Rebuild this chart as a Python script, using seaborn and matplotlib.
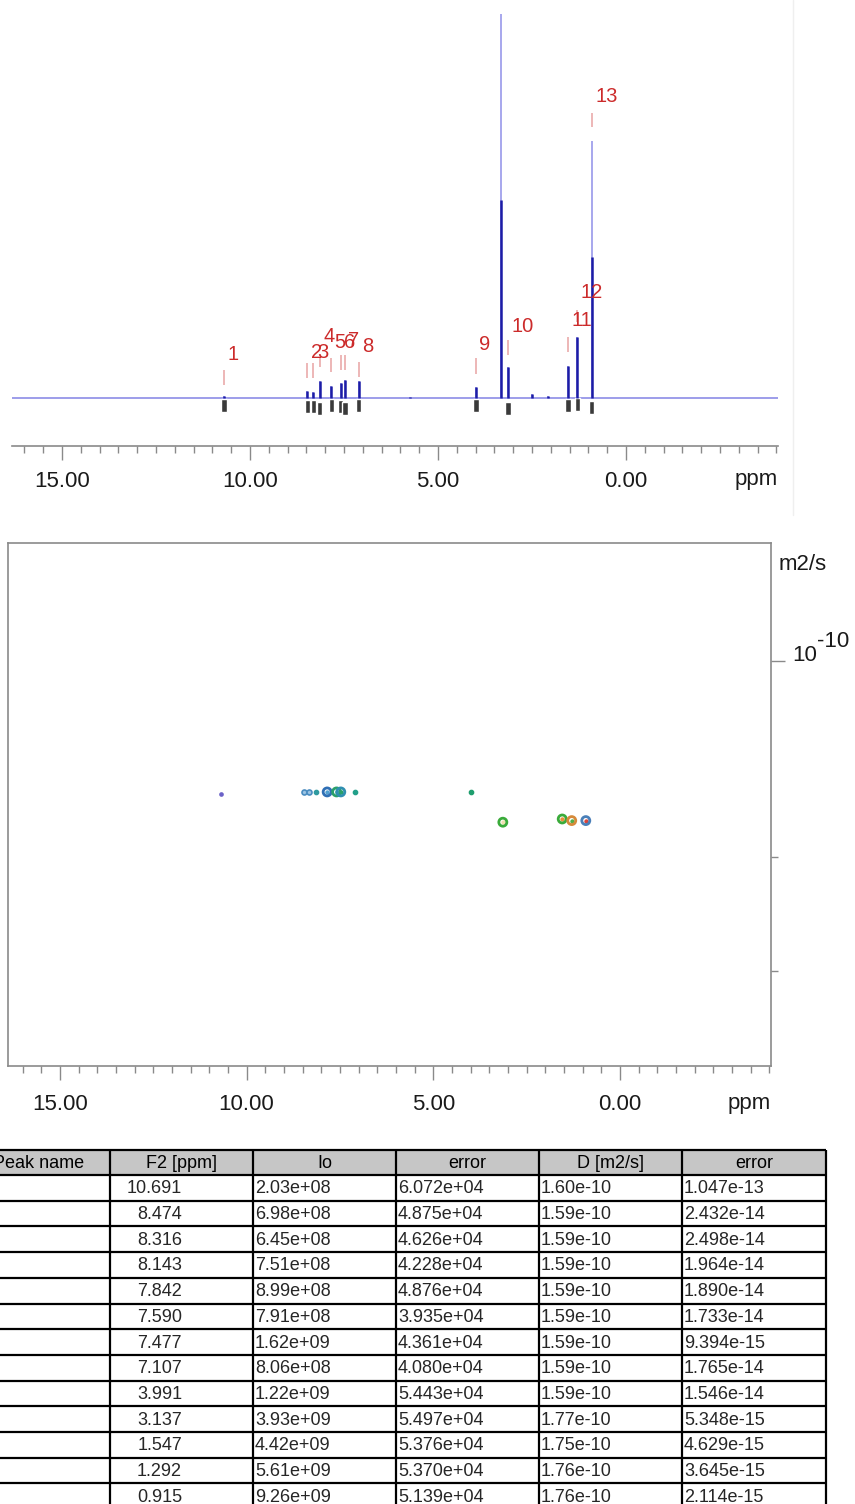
import numpy as np
import pandas as pd
import matplotlib
matplotlib.use("Agg")
import matplotlib.pyplot as plt
from matplotlib.ticker import MultipleLocator, FixedLocator, NullFormatter, FormatStrFormatter
from matplotlib.patches import Rectangle
from matplotlib.lines import Line2D
from matplotlib import font_manager as fm
import seaborn as sns

sns.set_theme(style="white")
plt.rcParams["font.family"] = ["Liberation Sans", "DejaVu Sans"]

# ---------------- peak table (DOSY fit results) ----------------
peak_no = list(range(1, 14))
f2_ppm = [10.691, 8.474, 8.316, 8.143, 7.842, 7.590, 7.477, 7.107, 3.991, 3.137, 1.547, 1.292, 0.915]
io = [2.03e8, 6.98e8, 6.45e8, 7.51e8, 8.99e8, 7.91e8, 1.62e9, 8.06e8, 1.22e9, 3.93e9, 4.42e9, 5.61e9, 9.26e9]
io_err = [6.072e4, 4.875e4, 4.626e4, 4.228e4, 4.876e4, 3.935e4, 4.361e4, 4.080e4, 5.443e4,
          5.497e4, 5.376e4, 5.370e4, 5.139e4]
diff_d = [1.60e-10, 1.59e-10, 1.59e-10, 1.59e-10, 1.59e-10, 1.59e-10, 1.59e-10, 1.59e-10, 1.59e-10,
          1.77e-10, 1.75e-10, 1.76e-10, 1.76e-10]
diff_d_err = [1.047e-13, 2.432e-14, 2.498e-14, 1.964e-14, 1.890e-14, 1.733e-14, 9.394e-15, 1.765e-14,
              1.546e-14, 5.348e-15, 4.629e-15, 3.645e-15, 2.114e-15]

# ---------------- 1H projection ----------------
# labelled lines: full height and height of the dense multiplet core
peak_height = [2, 7, 6, 17, 12, 15, 18, 17, 11, 31, 32, 61, 257]
peak_core = [2, 7, 6, 17, 12, 15, 18, 17, 11, 31, 32, 61, 141]
# unlabelled lines (residual solvent / water)
other_ppm = [5.74, 3.33, 2.50, 2.07]
other_height = [1.5, 430, 4, 2]
other_core = [1.5, 198, 4, 2]

# ---------------- layout / style (not data) ----------------
W, H = 855, 1504
tick_lo = [13, 20, 20, 31, 26, 28, 28, 21, 24, 43, 46, 76, 271]
tick_hi = [28, 35, 35, 41, 40, 43, 43, 36, 40, 58, 61, 88, 285]
label_y = [43, 46, 45, 61, 56, 55, 58, 52, 54, 72, 77, 105, 301]
integ_drop = [1, 2, 2, 4, 1, 2, 4, 1, 1, 4, 1, 0, 3]

ring_px = [3, 5, 5, 4, 8, 8, 8, 4, 4, 8, 8, 8, 8]
ring_col = ["#6b62c8", "#4a8cc0", "#4a8cc0", "#2f9aa0", "#2f6fb5", "#2aa06a", "#2f8fb0",
            "#22a08a", "#1f9e6e", "#3aab3a", "#3aab3a", "#d58a3a", "#4a7fb8"]
core_col = ["#6b62c8", "#9cc4e4", "#9cc4e4", "#2f9aa0", "#4f9fd0", "#3aa0a0", "#2aa06a",
            "#22a08a", "#1f9e6e", "#f0e0b0", "#e8903a", "#4fae4a", "#d9453a"]

TICK_C = "#8a8a8a"
TXT_C = "#1a1a1a"


def rect(x0, y0, x1, y1):
    return [x0 / W, 1 - y1 / H, (x1 - x0) / W, (y1 - y0) / H]


fig = plt.figure(figsize=(W / 100, H / 100), dpi=100)
# faint page edge next to the spectrum
fig.add_artist(Line2D([793 / W, 793 / W], [1, 1 - 515 / H], color="#efefef", lw=1.0))

# ================= 1H spectrum =================
ax1 = fig.add_axes(rect(12, 14, 778, 446))
ax1.set_xlim(16.33, -4.04)
ax1.set_ylim(-48, 384)
ax1.axhline(0, color="#8c8ce6", lw=1.2, zorder=1)

all_ppm = f2_ppm + other_ppm
all_h = peak_height + other_height
all_core = peak_core + other_core
ax1.vlines(all_ppm, 0, all_h, color="#8f8fe8", lw=1.1, zorder=2)
ax1.vlines(all_ppm, 0, all_core, color="#1c1ca6", lw=1.8, zorder=3)

# integral region markers
ax1.bar(f2_ppm, height=[-13] * len(f2_ppm), bottom=[-d for d in integ_drop],
        width=0.14, color="#3a3a3a", zorder=2)

# peak picking marks and numbers
ax1.vlines(f2_ppm, tick_lo, tick_hi, color="#e8a3a3", lw=1.1, zorder=2)
for n, x, y in zip(peak_no, f2_ppm, label_y):
    ax1.annotate(str(n), (x, y), xytext=(2.5, 0), textcoords="offset points",
                 ha="left", va="center", color="#cc2b2b", fontsize=14.5)

for s in ["top", "left", "right"]:
    ax1.spines[s].set_visible(False)
ax1.spines["bottom"].set_color(TICK_C)
ax1.spines["bottom"].set_linewidth(1.2)
ax1.set_yticks([])
ax1.xaxis.set_major_locator(MultipleLocator(5))
ax1.xaxis.set_minor_locator(MultipleLocator(0.5))
ax1.xaxis.set_major_formatter(FormatStrFormatter("%.2f"))
ax1.tick_params(axis="x", which="major", direction="out", length=10, width=1, color=TICK_C,
                labelsize=16, labelcolor=TXT_C, pad=8, bottom=True)
ax1.tick_params(axis="x", which="minor", direction="out", length=5, width=1, color=TICK_C, bottom=True)
fig.text(778 / W, 1 - 480 / H, "ppm", ha="right", va="center", fontsize=16, color=TXT_C)

# ================= DOSY map =================
ax2 = fig.add_axes(rect(8, 543, 771, 1066))
ax2.set_xlim(16.39, -4.045)
ax2.set_yscale("log")
ax2.set_ylim(4.20e-10, 6.58e-11)

dosy = pd.DataFrame({"ppm": f2_ppm, "D": diff_d})
for i in range(len(dosy)):
    row = dosy.iloc[[i]]
    d = ring_px[i] * 0.72
    if ring_px[i] >= 7:
        sns.scatterplot(data=row, x="ppm", y="D", ax=ax2, s=(d * 0.55) ** 2, marker="o",
                        color=core_col[i], linewidth=0, zorder=3)
        sns.scatterplot(data=row, x="ppm", y="D", ax=ax2, s=d * d, marker="o",
                        facecolor="none", edgecolor=ring_col[i], linewidth=2.0, zorder=4)
    else:
        sns.scatterplot(data=row, x="ppm", y="D", ax=ax2, s=d * d, marker="o",
                        color=core_col[i], edgecolor=ring_col[i], linewidth=1.2, zorder=3)

for s in ax2.spines.values():
    s.set_color(TICK_C)
    s.set_linewidth(1.2)
ax2.set_xlabel("")
ax2.set_ylabel("")
ax2.xaxis.set_major_locator(MultipleLocator(5))
ax2.xaxis.set_minor_locator(MultipleLocator(0.5))
ax2.xaxis.set_major_formatter(FormatStrFormatter("%.2f"))
ax2.tick_params(axis="x", which="major", direction="out", length=10, width=1, color=TICK_C,
                labelsize=16, labelcolor=TXT_C, pad=10, bottom=True)
ax2.tick_params(axis="x", which="minor", direction="out", length=5, width=1, color=TICK_C, bottom=True)

ax2.yaxis.set_ticks_position("right")
ax2.yaxis.set_major_locator(FixedLocator([1e-10]))
ax2.yaxis.set_minor_locator(FixedLocator([2e-10, 3e-10]))
ax2.yaxis.set_major_formatter(NullFormatter())
ax2.yaxis.set_minor_formatter(NullFormatter())
ax2.tick_params(axis="y", which="major", direction="out", length=10, width=1, color=TICK_C, right=True, left=False)
ax2.tick_params(axis="y", which="minor", direction="out", length=5, width=1, color=TICK_C, right=True, left=False)
# decade label written as base + raised exponent
ax2.annotate("10", xy=(1, 1e-10), xycoords=("axes fraction", "data"),
             xytext=(15, 0), textcoords="offset points", ha="left", va="baseline",
             fontsize=16, color=TXT_C)
ax2.annotate("-10", xy=(1, 1e-10), xycoords=("axes fraction", "data"),
             xytext=(33, 10.5), textcoords="offset points", ha="left", va="baseline",
             fontsize=16, color=TXT_C)
fig.text(779 / W, 1 - 565 / H, "m2/s", ha="left", va="center", fontsize=16, color=TXT_C)
fig.text(771 / W, 1 - 1104 / H, "ppm", ha="right", va="center", fontsize=16, color=TXT_C)

# ================= results table =================
names = {f.name for f in fm.fontManager.ttflist}
if "Liberation Sans Narrow" in names:
    tfont, tfs = ["Liberation Sans Narrow", "Liberation Sans"], 15
else:
    tfont, tfs = ["Liberation Sans", "DejaVu Sans"], 13

ax3 = fig.add_axes([0, 0, 1, 1], zorder=-1)
ax3.set_xlim(0, W)
ax3.set_ylim(H, 0)
ax3.axis("off")

col_x = [-33, 110, 253, 396, 539, 682, 826]
head_top, head_bot, row_h = 1150, 1175, 25.7
n_rows = len(f2_ppm)
headers = ["Peak name", "F2 [ppm]", "Io", "error", "D [m2/s]", "error"]

ax3.add_patch(Rectangle((col_x[0], head_top), col_x[-1] - col_x[0], head_bot - head_top,
                        facecolor="#c6c6c6", edgecolor="none"))
y_lines = [head_top, head_bot] + [head_bot + row_h * (k + 1) for k in range(n_rows)]
for y in y_lines:
    ax3.plot([col_x[0], col_x[-1]], [y, y], color="black", lw=1.6, solid_capstyle="butt")
for x in col_x:
    ax3.plot([x, x], [head_top, H + 10], color="black", lw=1.6, solid_capstyle="butt")

for j, h in enumerate(headers):
    ax3.text((col_x[j] + col_x[j + 1]) / 2, (head_top + head_bot) / 2 + 1, h,
             ha="center", va="center", fontsize=tfs, family=tfont, color="black")

for i in range(n_rows):
    yc = head_bot + row_h * (i + 0.5) + 1
    ax3.text(182, yc, f"{f2_ppm[i]:.3f}", ha="right", va="center", fontsize=tfs, family=tfont)
    ax3.text(col_x[2] + 2, yc, f"{io[i]:.2e}", ha="left", va="center", fontsize=tfs, family=tfont)
    ax3.text(col_x[3] + 2, yc, f"{io_err[i]:.3e}", ha="left", va="center", fontsize=tfs, family=tfont)
    ax3.text(col_x[4] + 2, yc, f"{diff_d[i]:.2e}", ha="left", va="center", fontsize=tfs, family=tfont)
    ax3.text(col_x[5] + 2, yc, f"{diff_d_err[i]:.3e}", ha="left", va="center", fontsize=tfs, family=tfont)

fig.savefig("out.png", dpi=100)
